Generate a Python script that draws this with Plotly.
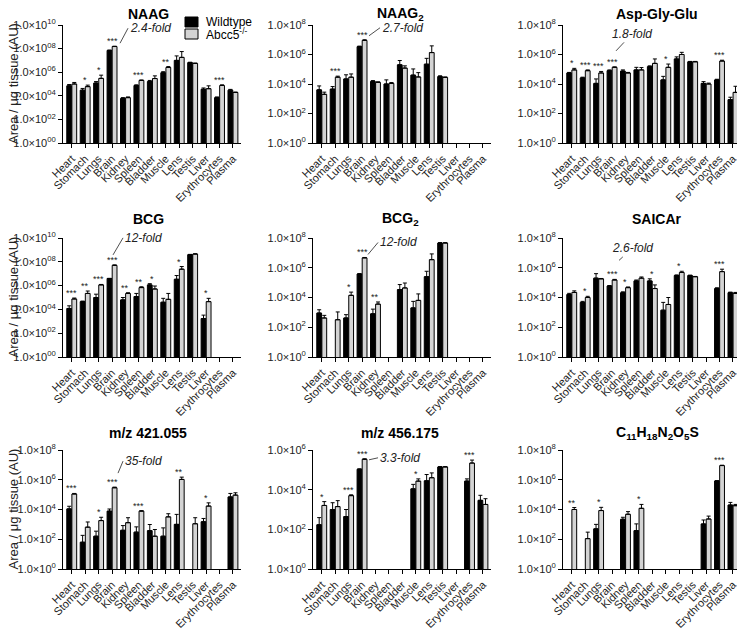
import math
import plotly.graph_objects as go

N = None

tissues = ["Heart", "Stomach", "Lungs", "Brain", "Kidney", "Spleen", "Bladder",
           "Muscle", "Lens", "Testis", "Liver", "Erythrocytes", "Plasma"]

# ---------------- NAAG ----------------
naag_wt = [7e4, 3e4, 1.2e5, 7e7, 6e3, 7.5e4, 1.6e5, 9e5, 1e7, 6.5e6, 3.6e4, 7e3, 3e4]
naag_wt_err = [2e4, 1.2e4, 4e4, 5e6, 1e3, 1e4, 4e4, 2e5, 1.4e7, 5e5, 1e4, 1e3, 5e3]
naag_ko = [1e5, 6e4, 3e5, 1.5e8, 7e3, 2e5, 2.9e5, 2.5e6, 1.8e7, 5.5e6, 4e4, 7.5e4, 1.9e4]
naag_ko_err = [3.5e4, 2e4, 2.6e5, 1e7, 1e3, 2e4, 2e5, 5e5, 3.8e7, 5e5, 3e4, 1e4, 2e3]
naag_sig = ["", "*", "*", "***", "", "***", "", "**", "", "", "", "***", ""]

# ---------------- NAAG2 ----------------
naag2_wt = [4e3, 4.5e3, 2.2e4, 3.4e6, 1.5e4, 1e4, 2e5, 4e4, 2.2e5, 3.2e4, N, N, N]
naag2_wt_err = [3.4e3, 2.2e3, 2e4, 3e5, 2e3, 9e3, 1.9e5, 6.5e4, 3.3e5, 4e3, 0, 0, 0]
naag2_ko = [2e3, 2.9e4, 2.9e4, 9e6, 1.3e4, 1.1e4, 1.2e5, 3e4, 1.35e6, 2.8e4, N, N, N]
naag2_ko_err = [8e2, 5e3, 1.9e4, 1e6, 1e3, 1.5e3, 5e4, 2.9e4, 2.5e6, 2e3, 0, 0, 0]
naag2_sig = ["", "***", "", "***", "", "", "", "", "", "", "", "", ""]

# ---------------- Asp-Gly-Glu ----------------
agg_wt = [5.6e4, 2.6e4, 1.1e4, 8e4, 7.5e4, 9e4, 1.5e5, 1.9e4, 5e5, 3.2e5, 1.1e4, 1.9e4, 8.7e2]
agg_wt_err = [5e3, 3e3, 1.1e4, 1e4, 1.5e4, 4.5e4, 2e4, 1.4e4, 1.9e5, 2e4, 3.5e3, 2e3, 4e2]
agg_ko = [9e4, 8e4, 5.6e4, 1.35e5, 5.6e4, 9e4, 2.5e5, 1.35e5, 1e6, 3.2e5, 1e4, 3.6e5, 2.7e3]
agg_ko_err = [2.5e4, 1e4, 1.5e4, 1e4, 5e3, 4e4, 2.5e5, 9e4, 4e5, 2e4, 1.5e3, 5e4, 4.3e3]
agg_sig = ["*", "***", "***", "***", "", "", "", "*", "", "", "", "***", ""]

# ---------------- BCG ----------------
bcg_wt = [1.2e4, 4.5e4, 1e5, 4e6, 6.3e4, 1.2e5, 1.15e6, 4e4, 3.4e6, 4e8, 1.7e3, N, N]
bcg_wt_err = [8e3, 5e3, 9e4, 0, 3.7e4, 1e5, 3e5, 4.5e4, 3.6e6, 2e7, 1.6e3, 0, 0]
bcg_ko = [7.5e4, 2.2e5, 1.15e6, 5e7, 2.2e5, 6.8e5, 5.2e5, 7e4, 2.4e7, 4.5e8, 4.5e4, N, N]
bcg_ko_err = [1.5e4, 1.3e5, 1e5, 5e6, 3e4, 1.2e5, 4e5, 1.5e5, 1.6e7, 2e7, 4e4, 0, 0]
bcg_sig = ["***", "**", "***", "***", "**", "**", "*", "", "*", "", "*", "", ""]

# ---------------- BCG2 ----------------
bcg2_wt = [9e2, N, 4.2e2, 3.8e5, 8e2, N, 3.4e4, 2e3, 2.5e5, 4.6e7, N, N, N]
bcg2_wt_err = [6e2, 0, 2.8e2, 2e4, 8.5e2, 0, 4e4, 3.5e3, 3.3e5, 3e6, 0, 0, 0]
bcg2_ko = [4.2e2, 3.2e2, 1.4e4, 4.6e6, 3.6e3, N, 4.4e4, 6.4e3, 3.5e6, 4.6e7, N, N, N]
bcg2_ko_err = [2.1e2, 7.5e2, 9e3, 3e5, 1.4e3, 0, 5e4, 1.1e4, 5e6, 3e6, 0, 0, 0]
bcg2_sig = ["", "", "*", "***", "**", "", "", "", "", "", "", "", ""]

# ---------------- SAICAr ----------------
saicar_wt = [1.6e4, 4.7e3, 2e5, 5.9e4, 2.1e4, 1.3e5, 1.3e5, 1.4e3, 3e5, 3e5, N, 4e4, 2.1e4]
saicar_wt_err = [3e3, 8e2, 2e5, 5e3, 3e3, 2e4, 5e4, 3.3e3, 3e4, 2e4, 0, 5e3, 2e3]
saicar_ko = [2.2e4, 1e4, 1.8e5, 1.5e5, 4.6e4, 2e5, 4e4, 3.4e3, 4.8e5, 2.5e5, N, 5.5e5, 1.9e4]
saicar_ko_err = [6e3, 2e3, 1e4, 1.5e4, 5e3, 4e4, 3e4, 6.6e3, 1e5, 1e4, 0, 2.5e5, 3e3]
saicar_sig = ["", "*", "", "***", "*", "", "*", "", "*", "", "", "***", ""]

# ---------------- m/z 421.055 ----------------
mz421_wt = [1.1e4, 63, 1.6e2, 7.8e3, 4e2, 3e2, 3.8e2, 1.6e2, 1e3, N, 1.5e3, N, 7e4]
mz421_wt_err = [5.5e3, 1.2e2, 1.9e2, 3e3, 4.3e2, 3.8e2, 6e2, 4.2e2, 3.7e3, 0, 1e3, 0, 5e4]
mz421_ko = [1.1e5, 6.5e2, 1.8e3, 2.9e5, 1.3e3, 7.8e3, 1.6e2, 3.2e3, 1.05e6, 1.1e3, 1.7e4, N, 9.3e4]
mz421_ko_err = [1e4, 8e2, 1.2e3, 3e4, 1.5e3, 5e2, 2.9e2, 2e3, 4.5e5, 1.7e3, 1.1e4, 0, 4e4]
mz421_sig = ["***", "", "*", "***", "", "***", "", "", "**", "", "*", "", ""]

# ---------------- m/z 456.175 ----------------
mz456_wt = [1.7e2, 1e3, 4.4e2, 1.07e5, N, N, N, 1.1e4, 2.8e4, 1.4e5, N, 2.7e4, 2.9e3]
mz456_wt_err = [2.2e2, 1.2e3, 5.6e2, 5e3, 0, 0, 0, 7.5e3, 3e4, 5e3, 0, 8e3, 2.3e3]
mz456_ko = [1.6e3, 1.4e3, 5e3, 3.4e5, N, N, N, 2.7e4, 4e4, 1.4e5, N, 2.2e5, 1.8e3]
mz456_ko_err = [9e2, 1.4e3, 5e2, 2e4, 0, 0, 0, 8e3, 3e4, 5e3, 0, 9e4, 1.7e3]
mz456_sig = ["*", "", "***", "***", "", "", "", "*", "", "", "", "***", ""]

# ---------------- C11H18N2O5S ----------------
c11_wt = [N, N, 5e2, N, 2.2e3, 3.8e2, N, N, N, N, 1.07e3, 8.3e5, 2e4]
c11_wt_err = [0, 0, 5e2, 0, 8e2, 7e2, 0, 0, 0, 0, 9e2, 3e4, 1e4]
c11_ko = [1e4, 1.1e2, 8.5e3, N, 4.8e3, 1.2e4, N, N, N, N, 2.3e3, 9e6, 1.8e4]
c11_ko_err = [3.5e3, 1.9e2, 5.5e3, 0, 2.4e3, 1e4, 0, 0, 0, 0, 1.3e3, 5e5, 4e3]
c11_sig = ["**", "", "*", "", "", "*", "", "", "", "", "", "***", ""]

titles = ["NAAG", "NAAG<sub>2</sub>", "Asp-Gly-Glu", "BCG", "BCG<sub>2</sub>", "SAICAr",
          "m/z 421.055", "m/z 456.175", "C<sub>11</sub>H<sub>18</sub>N<sub>2</sub>O<sub>5</sub>S"]
y_decades = [10, 8, 8, 10, 8, 8, 8, 6, 8]
two_digit_exp = [True, False, False, True, False, False, False, False, False]
fold_labels = ["2.4-fold", "2.7-fold", "1.8-fold", "12-fold", "12-fold", "2.6-fold", "35-fold", "3.3-fold", None]
legend_names = ["Wildtype", "Abcc5<sup>-/-</sup>"]
y_title = "Area / μg tissue (AU)"

panels = [
    (naag_wt, naag_wt_err, naag_ko, naag_ko_err, naag_sig),
    (naag2_wt, naag2_wt_err, naag2_ko, naag2_ko_err, naag2_sig),
    (agg_wt, agg_wt_err, agg_ko, agg_ko_err, agg_sig),
    (bcg_wt, bcg_wt_err, bcg_ko, bcg_ko_err, bcg_sig),
    (bcg2_wt, bcg2_wt_err, bcg2_ko, bcg2_ko_err, bcg2_sig),
    (saicar_wt, saicar_wt_err, saicar_ko, saicar_ko_err, saicar_sig),
    (mz421_wt, mz421_wt_err, mz421_ko, mz421_ko_err, mz421_sig),
    (mz456_wt, mz456_wt_err, mz456_ko, mz456_ko_err, mz456_sig),
    (c11_wt, c11_wt_err, c11_ko, c11_ko_err, c11_sig),
]

# ---------------- layout geometry (pixels, in page coordinates) ----------------
W, H = 745, 629
PAGE_OFFSET = 8   # default body margin of the page that holds the figure
col_px = [(63, 241), (313, 491), (563, 741)]
row_px = [(25, 143), (238, 357), (450, 569)]
title_x = [148, 400, 657]
title_y = [14, 219, 433]
# fold annotation geometry: (dx, dy from brain top, ax, ay, xanchor)
fold_geom = [
    (8, -3, 8, -15, "left"),
    (7, -4, 11, -8, "left"),
    (4, -16, 16, -17, "center"),
    (1, -10, 10, -17, "left"),
    (6, -3, 10, -12, "left"),
    (7, -19, 13, -12, "center"),
    (6, -14, 5, -12, "left"),
    (7, 1, 9, -2, "left"),
    None,
]

FONT = "Arial, 'Liberation Sans', sans-serif"
TXT = "#222222"
GREY = "#d4d4d4"

fig = go.Figure()
annotations = []

def px2x(p):
    return (p - PAGE_OFFSET) / W

def px2y(p):
    return 1 - (p - PAGE_OFFSET) / H

for i, (wt, wte, ko, koe, sig) in enumerate(panels):
    r, c = divmod(i, 3)
    ax_id = "" if i == 0 else str(i + 1)
    xref, yref = "x" + ax_id, "y" + ax_id
    fig.add_trace(go.Bar(
        x=tissues, y=wt, name=legend_names[0], marker=dict(color="black", line=dict(color="black", width=1)),
        error_y=dict(type="data", array=wte, arrayminus=[0] * len(wte), symmetric=False,
                     color="black", thickness=1, width=2),
        xaxis=xref, yaxis=yref, showlegend=False, offsetgroup="wt"))
    fig.add_trace(go.Bar(
        x=tissues, y=ko, name=legend_names[1], marker=dict(color=GREY, line=dict(color="black", width=1)),
        error_y=dict(type="data", array=koe, arrayminus=[0] * len(koe), symmetric=False,
                     color="black", thickness=1, width=2),
        xaxis=xref, yaxis=yref, showlegend=False, offsetgroup="ko"))

    nd = y_decades[i]
    tv = list(range(0, nd + 1, 2))
    tt = [("1.0×10<sup>%02d</sup>" if two_digit_exp[i] else "1.0×10<sup>%d</sup>") % k for k in tv]
    x0, x1 = col_px[c]
    y0, y1 = row_px[r]
    fig.layout["xaxis" + ax_id] = dict(
        domain=[px2x(x0), px2x(x1)], anchor=yref, type="category", range=[-0.65, 12.6],
        showline=True, linecolor="black", linewidth=1, ticks="outside", ticklen=4,
        tickcolor="black", tickangle=-45, tickfont=dict(size=11, color=TXT, family=FONT),
        showgrid=False, fixedrange=True, automargin=False)
    fig.layout["yaxis" + ax_id] = dict(
        domain=[px2y(y1), px2y(y0)], anchor=xref, type="log", range=[0, nd],
        tickvals=[10 ** k for k in tv], ticktext=tt,
        showline=True, linecolor="black", linewidth=1, ticks="outside", ticklen=4,
        tickcolor="black", tickfont=dict(size=11, color=TXT, family=FONT),
        showgrid=False, zeroline=False, fixedrange=True, automargin=False)

    # significance stars
    for j, s in enumerate(sig):
        if not s:
            continue
        tops = []
        if wt[j] is not None:
            tops.append(wt[j] + wte[j])
        if ko[j] is not None:
            tops.append(ko[j] + koe[j])
        annotations.append(dict(x=tissues[j], y=math.log10(max(tops)), xref=xref, yref=yref,
                                text=s, showarrow=False, yanchor="bottom", yshift=-2,
                                font=dict(size=9, color=TXT, family=FONT)))

    # fold-change label
    if fold_labels[i]:
        dx, dy, axp, ayp, xa = fold_geom[i]
        j = tissues.index("Brain")
        top = max(wt[j] + wte[j], ko[j] + koe[j])
        annotations.append(dict(x=tissues[j], y=math.log10(top), xref=xref, yref=yref,
                                xshift=dx, yshift=-dy, text="<i>" + fold_labels[i] + "</i>",
                                showarrow=True, arrowhead=0, arrowwidth=0.8, arrowcolor=TXT,
                                ax=axp, ay=ayp, xanchor=xa, yanchor="middle", standoff=0,
                                font=dict(size=12, color=TXT, family=FONT)))

    # panel title
    annotations.append(dict(x=px2x(title_x[c]), y=px2y(title_y[r]), xref="paper", yref="paper",
                            text="<b>" + titles[i] + "</b>", showarrow=False,
                            xanchor="center", yanchor="middle",
                            font=dict(size=14, color="black", family=FONT)))

# y-axis titles
for r in range(3):
    y0, y1 = row_px[r]
    annotations.append(dict(x=px2x(13), y=px2y((y0 + y1) / 2), xref="paper", yref="paper",
                            text=y_title, textangle=-90, showarrow=False,
                            xanchor="center", yanchor="middle",
                            font=dict(size=13, color=TXT, family=FONT)))

# legend (manual)
shapes = []
leg_boxes = [(185, 17, 198, 27, "black"), (185, 29, 198, 39, GREY)]
for (bx0, by0, bx1, by1, col), name, ty in zip(leg_boxes, legend_names, [22, 34]):
    shapes.append(dict(type="rect", xref="paper", yref="paper",
                       x0=px2x(bx0), x1=px2x(bx1), y0=px2y(by1), y1=px2y(by0),
                       fillcolor=col, line=dict(color="black", width=1)))
    annotations.append(dict(x=px2x(204), y=px2y(ty), xref="paper", yref="paper",
                            text=name, showarrow=False, xanchor="left", yanchor="middle",
                            font=dict(size=12, color="black", family=FONT)))

fig.update_layout(
    width=W, height=H, margin=dict(l=0, r=0, t=0, b=0, autoexpand=False),
    paper_bgcolor="white", plot_bgcolor="white",
    barmode="group", bargap=0.24, bargroupgap=0.06,
    showlegend=False, annotations=annotations, shapes=shapes,
    font=dict(family=FONT, color=TXT),
)

fig.write_html("out.html")
